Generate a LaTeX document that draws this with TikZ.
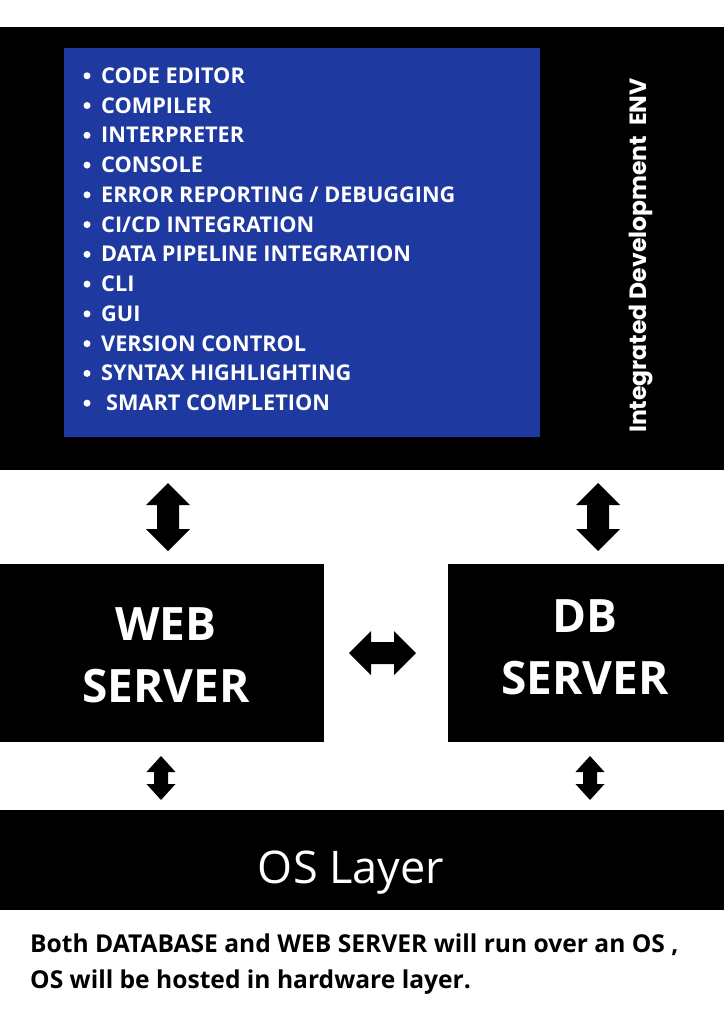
\documentclass[tikz,border=0pt]{standalone}
\usepackage{fontspec}
\setmainfont{Open Sans}
\newfontfamily\popp{Poppins}
\definecolor{ideblue}{RGB}{30,58,160}
\begin{document}
\begin{tikzpicture}[x=1pt,y=-1pt,
  box/.style={fill=black, draw=none, inner sep=0, anchor=north west},
  item/.style={font=\fontsize{21.7}{26}\selectfont\bfseries, text=white, anchor=base west, inner sep=0},
  bul/.style={circle, fill=white, inner sep=0, minimum size=7pt},
  srv/.style={font=\fontsize{46}{62}\selectfont\bfseries, text=white, anchor=base, inner sep=0},
  pics/dblarrow/.style n args={4}{code={\fill (0,-#1) -- (#3,-#1+#2) -- (#4,-#1+#2) -- (#4,#1-#2) -- (#3,#1-#2) -- (0,#1) -- (-#3,#1-#2) -- (-#4,#1-#2) -- (-#4,-#1+#2) -- (-#3,-#1+#2) -- cycle;}}
]
\useasboundingbox (0,0) rectangle (724,1024);
\fill[white] (0,0) rectangle (724,1024);

% IDE block
\node[box, minimum width=724pt, minimum height=443pt] (ide) at (0,27) {};
\node[box, fill=ideblue, minimum width=476pt, minimum height=389pt] (tools) at (64,48) {};
\foreach \t [count=\i from 0] in {CODE EDITOR, COMPILER, INTERPRETER, CONSOLE, ERROR REPORTING / DEBUGGING, CI/CD INTEGRATION, DATA PIPELINE INTEGRATION, CLI, GUI, VERSION CONTROL, SYNTAX HIGHLIGHTING}{
  \node[bul] (b\i) at (87, 83.3+29.76*\i-7.5) {};
  \node[item] (t\i) at (101, 83.3+29.76*\i) {\t};
}
\node[bul] (b11) at (87, 83.3+29.76*11-7.5) {};
\node[item] (t11) at (106, 83.3+29.76*11) {SMART COMPLETION};
\node[font=\popp\fontsize{23.5}{28}\selectfont\bfseries, text=white, rotate=90, anchor=base west, inner sep=0] (env) at (646,433) {Integrated Development\ \ ENV};

% servers
\node[box, minimum width=324pt, minimum height=178pt] (web) at (0,564) {};
\node[box, minimum width=276pt, minimum height=178pt] (db) at (448,564) {};
\node[srv] (webt1) at (166,640) {WEB};
\node[srv] (webt2) at (166,702) {SERVER};
\node[srv] (dbt1) at (585,632) {DB};
\node[srv] (dbt2) at (585,694) {SERVER};

% OS
\node[box, minimum width=724pt, minimum height=100pt] (os) at (0,810) {};
\node[font=\fontsize{45}{50}\selectfont, text=white, anchor=base, inner sep=0] (ost) at (351,883) {OS Layer};

% arrows
\pic (a1) at (168,517) {dblarrow={34}{22}{22}{11}};
\pic (a2) at (598,517) {dblarrow={34}{22}{22}{11}};
\pic[rotate=90] (a3) at (382.5,653) {dblarrow={33.5}{22}{22}{11}};
\pic (a4) at (161,778) {dblarrow={22}{16}{14.5}{7}};
\pic (a5) at (590,778) {dblarrow={22}{16}{14.5}{7}};

% caption
\node[font=\fontsize{24.6}{36}\selectfont\bfseries, anchor=base west, inner sep=0] (cap1) at (30,952) {Both DATABASE and WEB SERVER will run over an OS ,};
\node[font=\fontsize{24.6}{36}\selectfont\bfseries, anchor=base west, inner sep=0] (cap2) at (30,988) {OS will be hosted in hardware layer.};
\end{tikzpicture}
\end{document}
